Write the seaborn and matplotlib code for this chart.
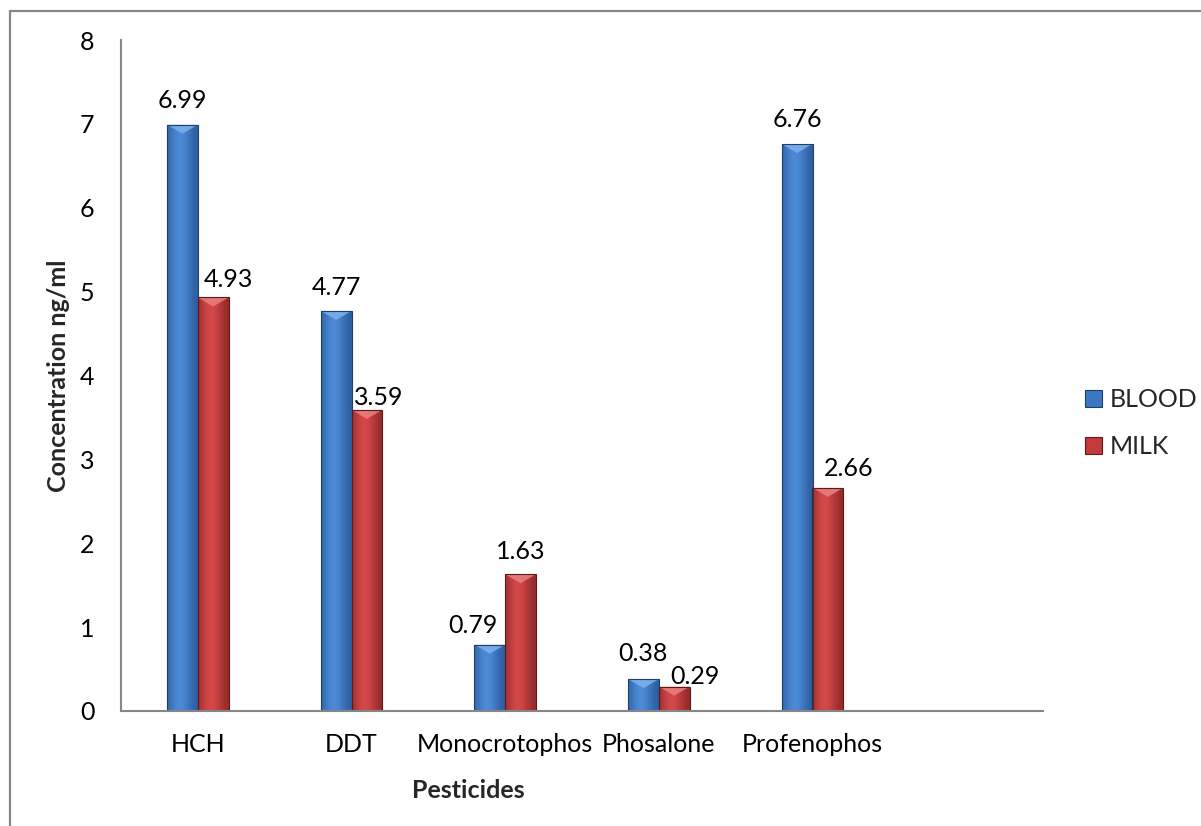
import matplotlib
matplotlib.use("Agg")
import numpy as np
import pandas as pd
import seaborn as sns
import matplotlib.pyplot as plt
from matplotlib.colors import to_rgb
from matplotlib.patches import Polygon, Rectangle
from matplotlib.lines import Line2D

# ---------------- data ----------------
categories = ["HCH", "DDT", "Monocrotophos", "Phosalone", "Profenophos"]
series_names = ["BLOOD", "MILK"]
blood = [6.99, 4.77, 0.79, 0.38, 6.76]
milk = [4.93, 3.59, 1.63, 0.29, 2.66]
y_ticks = [0, 1, 2, 3, 4, 5, 6, 7, 8]
x_title = "Pesticides"
y_title = "Concentration ng/ml"

# value-label offsets in pixels (dx, dy of label centre above bar top)
blood_label_offsets = [(0, 26), (0, 25), (-17, 21), (-1, 27), (0, 26)]
milk_label_offsets = [(15, 19), (12, 14), (0, 24), (21, 12), (21, 21)]

# ---------------- style ----------------
sns.set_style("white")
plt.rcParams["font.family"] = ["Lato", "DejaVu Sans"]

main = {"BLOOD": "#3D77C3", "MILK": "#C23A3A"}
dark = {"BLOOD": "#2A5A9A", "MILK": "#8E2828"}
light = {"BLOOD": "#4C8AD6", "MILK": "#D44848"}
bevel = {"BLOOD": "#7DB0EC", "MILK": "#EA8080"}
edge = {"BLOOD": "#1E3E6C", "MILK": "#5E1A1A"}
axis_gray = "#868686"
FS = 18

W, H = 1201, 826
fig = plt.figure(figsize=(W / 100, H / 100), dpi=100)
ax = fig.add_axes([121 / W, 115 / H, 922 / W, 671 / H])

df = pd.DataFrame({
    "Pesticide": categories * 2,
    "Concentration": blood + milk,
    "Sample": ["BLOOD"] * len(blood) + ["MILK"] * len(milk),
})

sns.barplot(data=df, x="Pesticide", y="Concentration", hue="Sample",
            order=categories, hue_order=series_names,
            palette=[main[s] for s in series_names], saturation=1,
            width=0.4, ax=ax, legend=False,
            edgecolor="none", linewidth=0, errorbar=None)

ax.set_xlim(-0.5, 5.5)
ax.set_ylim(0, 8)
ppu = 671 / 8.0  # pixels per data unit (y)

t = np.linspace(0, 1, 64)
prof = np.exp(-((t - 0.42) / 0.38) ** 2)

for cont, name, vals, offs in zip(ax.containers, series_names, [blood, milk],
                                   [blood_label_offsets, milk_label_offsets]):
    d_rgb = np.array(to_rgb(dark[name]))
    l_rgb = np.array(to_rgb(light[name]))
    img = (d_rgb[None, :] + (l_rgb - d_rgb)[None, :] * prof[:, None])[None, :, :]
    for bar, v, (dx, dy) in zip(cont, vals, offs):
        x0, w, h = bar.get_x(), bar.get_width(), bar.get_height()
        bar.set_zorder(2)
        im = ax.imshow(img, extent=[x0, x0 + w, 0, h], aspect="auto",
                       interpolation="bilinear", zorder=2.1)
        im.set_clip_path(bar)
        d = min(9 / ppu, h * 0.45)
        ax.add_patch(Polygon([(x0, h), (x0 + w, h), (x0 + w / 2, h - d)],
                             closed=True, facecolor=bevel[name], alpha=0.85,
                             edgecolor="none", zorder=2.2))
        ax.add_patch(Rectangle((x0, 0), w, h, fill=False, edgecolor=edge[name],
                               linewidth=0.8, zorder=2.3))
        ax.annotate(f"{v:.2f}", xy=(x0 + w / 2, h), xytext=(dx, dy - 9),
                    textcoords="offset pixels", ha="center", va="baseline",
                    fontsize=FS, color="black", zorder=3)

ax.set_xlim(-0.5, 5.5)
ax.set_ylim(0, 8)
ax.set_yticks(y_ticks)
ax.set_yticklabels([str(v) for v in y_ticks])
ax.set_xticks(range(len(categories)))
ax.set_xticklabels(categories)

for s in ["top", "right"]:
    ax.spines[s].set_visible(False)
for s in ["left", "bottom"]:
    ax.spines[s].set_color(axis_gray)
    ax.spines[s].set_linewidth(1.5)

ax.tick_params(axis="y", length=6, width=1.4, color=axis_gray, pad=13,
               labelsize=FS, labelcolor="black")
ax.tick_params(axis="x", length=0, pad=16, labelsize=FS, labelcolor="black")

ax.set_xlabel(x_title, fontsize=FS, fontweight="bold")
ax.set_ylabel(y_title, fontsize=FS, fontweight="bold")
ax.xaxis.set_label_coords((468 - 121) / 922, -(779 - 711) / 671)
ax.yaxis.set_label_coords(-(121 - 59) / 922, 0.5)
ax.yaxis.label.set_va("center")

handles = [Rectangle((0, 0), 1, 1, facecolor=main[s], edgecolor=edge[s], linewidth=0.8)
           for s in series_names]
fig.legend(handles, series_names, loc="center left",
           bbox_to_anchor=(1085 / W, 1 - 423 / H), frameon=False, fontsize=FS,
           handlelength=0.68, handleheight=0.68, handletextpad=0.3,
           labelspacing=0.95, borderpad=0, borderaxespad=0)

# outer frame (left & top visible)
fig.add_artist(Line2D([9.5 / W, 9.5 / W], [0, 1 - 10.5 / H], transform=fig.transFigure,
                      color="#888888", linewidth=1.6))
fig.add_artist(Line2D([9.5 / W, 1], [1 - 10.5 / H, 1 - 10.5 / H], transform=fig.transFigure,
                      color="#888888", linewidth=1.6))

fig.savefig("out.png", dpi=100)
